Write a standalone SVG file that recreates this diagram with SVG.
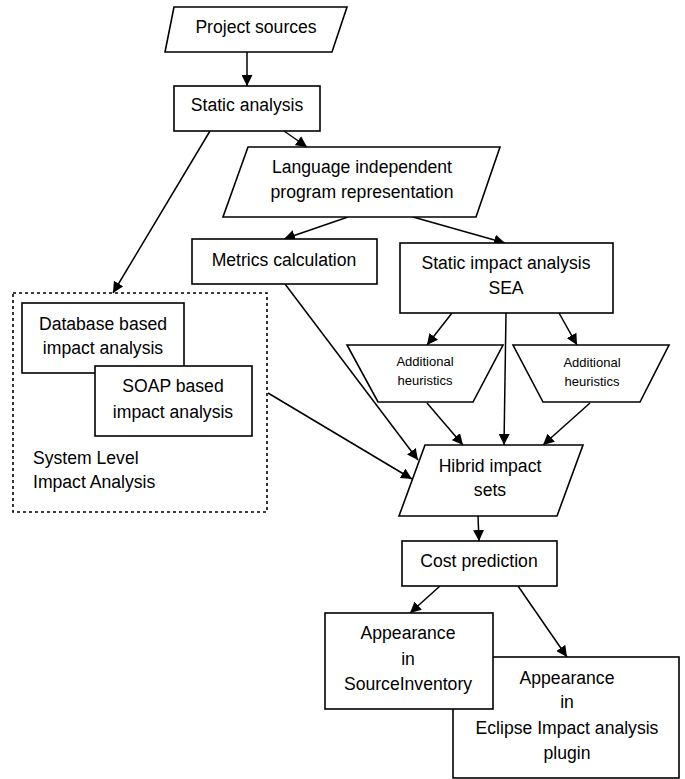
<svg xmlns="http://www.w3.org/2000/svg" width="685" height="779" viewBox="0 0 685 779">
<defs>
<marker id="ah" markerUnits="userSpaceOnUse" markerWidth="11" markerHeight="11" refX="11" refY="5.5" orient="auto">
<path d="M0,0 L11,5.5 L0,11 Z" fill="#000"/>
</marker>
<style>
.s{fill:#fff;stroke:#000;stroke-width:1.6}
.t{font-family:"Liberation Sans",Arial,sans-serif;font-size:17.6px;fill:#000;text-anchor:middle}
.sm{font-size:13px}
.l{text-anchor:start}
.c{fill:none;stroke:#000;stroke-width:1.5;marker-end:url(#ah)}
</style>
</defs>
<rect width="685" height="779" fill="#fff"/>
<g id="connectors">
<line class="c" x1="247" y1="52" x2="247" y2="86"/>
<line class="c" x1="284" y1="131" x2="307" y2="147"/>
<line class="c" x1="210" y1="131" x2="113" y2="293"/>
<line class="c" x1="348" y1="217" x2="284" y2="239"/>
<line class="c" x1="413" y1="217" x2="505" y2="243"/>
<line class="c" x1="452" y1="313" x2="427" y2="345"/>
<line class="c" x1="506" y1="313" x2="504" y2="445"/>
<line class="c" x1="559" y1="313" x2="577" y2="345"/>
<line class="c" x1="427" y1="403" x2="463" y2="445"/>
<line class="c" x1="590" y1="403" x2="543" y2="445"/>
<line class="c" x1="285" y1="284" x2="418" y2="460"/>
<line class="c" x1="268" y1="393" x2="412" y2="479"/>
<line class="c" x1="478" y1="516" x2="479" y2="541"/>
<line class="c" x1="440" y1="586" x2="410" y2="613"/>
<line class="c" x1="518" y1="586" x2="567" y2="657"/>
</g>
<g id="project-sources">
<polygon class="s" points="174,7 347,7 332,52 165,52"/>
<text class="t" x="256" y="33">Project sources</text>
</g>
<g id="static-analysis">
<rect class="s" x="174" y="86" width="146" height="45"/>
<text class="t" x="247" y="111">Static analysis</text>
</g>
<g id="language">
<polygon class="s" points="248,147 500,147 476,217 223,217"/>
<text class="t" x="362" y="173">Language independent</text>
<text class="t" x="362" y="198">program representation</text>
</g>
<g id="metrics">
<rect class="s" x="192" y="239" width="185" height="45"/>
<text class="t" x="284" y="266">Metrics calculation</text>
</g>
<g id="sia">
<rect class="s" x="400" y="243" width="213" height="70"/>
<text class="t" x="506" y="269">Static impact analysis</text>
<text class="t" x="506" y="294">SEA</text>
</g>
<g id="heur-left">
<polygon class="s" points="347,345 503,345 473,402 378,402"/>
<text class="t sm" x="425" y="366">Additional</text>
<text class="t sm" x="425" y="385">heuristics</text>
</g>
<g id="heur-right">
<polygon class="s" points="513,345 669,345 640,402 543,402"/>
<text class="t sm" x="592" y="367">Additional</text>
<text class="t sm" x="592" y="386">heuristics</text>
</g>
<g id="system-level">
<rect x="13" y="293" width="254" height="219" fill="none" stroke="#000" stroke-width="1.6" stroke-dasharray="3,3"/>
<text class="t l" x="33" y="464">System Level</text>
<text class="t l" x="33" y="488">Impact Analysis</text>
</g>
<g id="database">
<rect class="s" x="22" y="303" width="162" height="70"/>
<text class="t" x="103" y="330">Database based</text>
<text class="t" x="103" y="354">impact analysis</text>
</g>
<g id="soap">
<rect class="s" x="95" y="366" width="157" height="70"/>
<text class="t" x="173" y="392">SOAP based</text>
<text class="t" x="173" y="418">impact analysis</text>
</g>
<g id="hibrid">
<polygon class="s" points="425,445 583,445 557,516 399,516"/>
<text class="t" x="490" y="472">Hibrid impact</text>
<text class="t" x="490" y="496">sets</text>
</g>
<g id="cost">
<rect class="s" x="402" y="541" width="155" height="45"/>
<text class="t" x="479" y="567">Cost prediction</text>
</g>
<g id="eclipse">
<rect class="s" x="453" y="657" width="226" height="121"/>
<text class="t" x="567" y="684">Appearance</text>
<text class="t" x="567" y="708">in</text>
<text class="t" x="567" y="734">Eclipse Impact analysis</text>
<text class="t" x="567" y="759">plugin</text>
</g>
<g id="sourceinventory">
<rect class="s" x="325" y="613" width="168" height="96"/>
<text class="t" x="408" y="639">Appearance</text>
<text class="t" x="408" y="665">in</text>
<text class="t" x="408" y="690">SourceInventory</text>
</g>
</svg>
